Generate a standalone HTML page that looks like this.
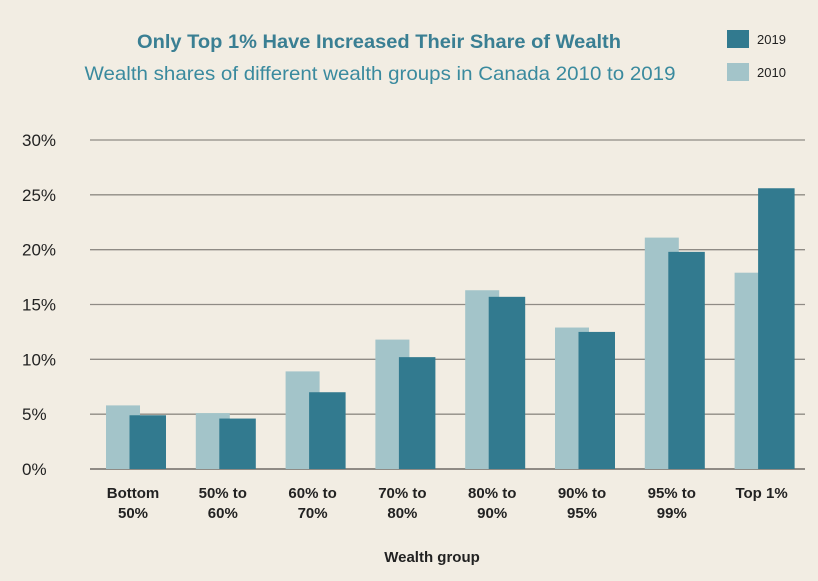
<!DOCTYPE html>
<html><head><meta charset="utf-8"><style>
body{margin:0;background:#f2ede3;}
svg{display:block;font-family:"Liberation Sans",sans-serif;}
</style></head><body>
<svg width="818" height="581" viewBox="0 0 818 581">
<rect width="818" height="581" fill="#f2ede3"/>
<text x="379" y="48" text-anchor="middle" font-size="19" font-weight="bold" fill="#3a7f93" textLength="484" lengthAdjust="spacingAndGlyphs">Only Top 1% Have Increased Their Share of Wealth</text>
<text x="380" y="80" text-anchor="middle" font-size="19.5" fill="#3a8a9e" textLength="591" lengthAdjust="spacingAndGlyphs">Wealth shares of different wealth groups in Canada 2010 to 2019</text>
<rect x="727" y="30" width="22" height="18" fill="#327a8f"/>
<text x="757" y="44" font-size="13" fill="#222">2019</text>
<rect x="727" y="63" width="22" height="18" fill="#a3c4c9"/>
<text x="757" y="77" font-size="13" fill="#222">2010</text>
<g id="grid"></g><g id="bars"></g><g id="labels"></g>
<text x="432" y="562" text-anchor="middle" font-size="15" font-weight="bold" fill="#222">Wealth group</text>
</svg>
<script>
const categories=[["Bottom","50%"],["50% to","60%"],["60% to","70%"],["70% to","80%"],["80% to","90%"],["90% to","95%"],["95% to","99%"],["Top 1%"]];
const values2010=[5.8,5.1,8.9,11.8,16.3,12.9,21.1,17.9];
const values2019=[4.9,4.6,7.0,10.2,15.7,12.5,19.8,25.6];
const yTicks=[0,5,10,15,20,25,30];
const NS="http://www.w3.org/2000/svg";
function y(v){return 469-v*(329/30);}
function gx(i){return 106+i*89.8;}
function mk(t,a,p){const e=document.createElementNS(NS,t);for(const k in a)e.setAttribute(k,a[k]);p.appendChild(e);return e;}
const G=document.getElementById('grid'),B=document.getElementById('bars'),L=document.getElementById('labels');
yTicks.forEach(t=>{
 const l=mk('line',{x1:90,x2:805,y1:y(t),y2:y(t),stroke:'#8f8b85','stroke-width':t===0?2:1.3},G);
 
 
 const tx=mk('text',{x:22,y:y(t)+6,'font-size':17,fill:'#222'},G);
 tx.textContent=t+'%';
 
 
});
categories.forEach((c,i)=>{
 const a=mk('rect',{x:gx(i),y:y(values2010[i]),width:34,height:y(0)-y(values2010[i]),fill:'#a3c4c9'},B);
 
 
 const b=mk('rect',{x:gx(i)+23.5,y:y(values2019[i]),width:36.5,height:y(0)-y(values2019[i]),fill:'#327a8f'},B);
 
 
 const t=mk('text',{x:gx(i)+27,'text-anchor':'middle','font-size':15,'font-weight':'bold',fill:'#222'},L);
 
 
 c.forEach((s,j)=>{const ts=mk('tspan',{x:gx(i)+27,y:498+j*20},t);ts.textContent=s;});
});
</script>
</body></html>
